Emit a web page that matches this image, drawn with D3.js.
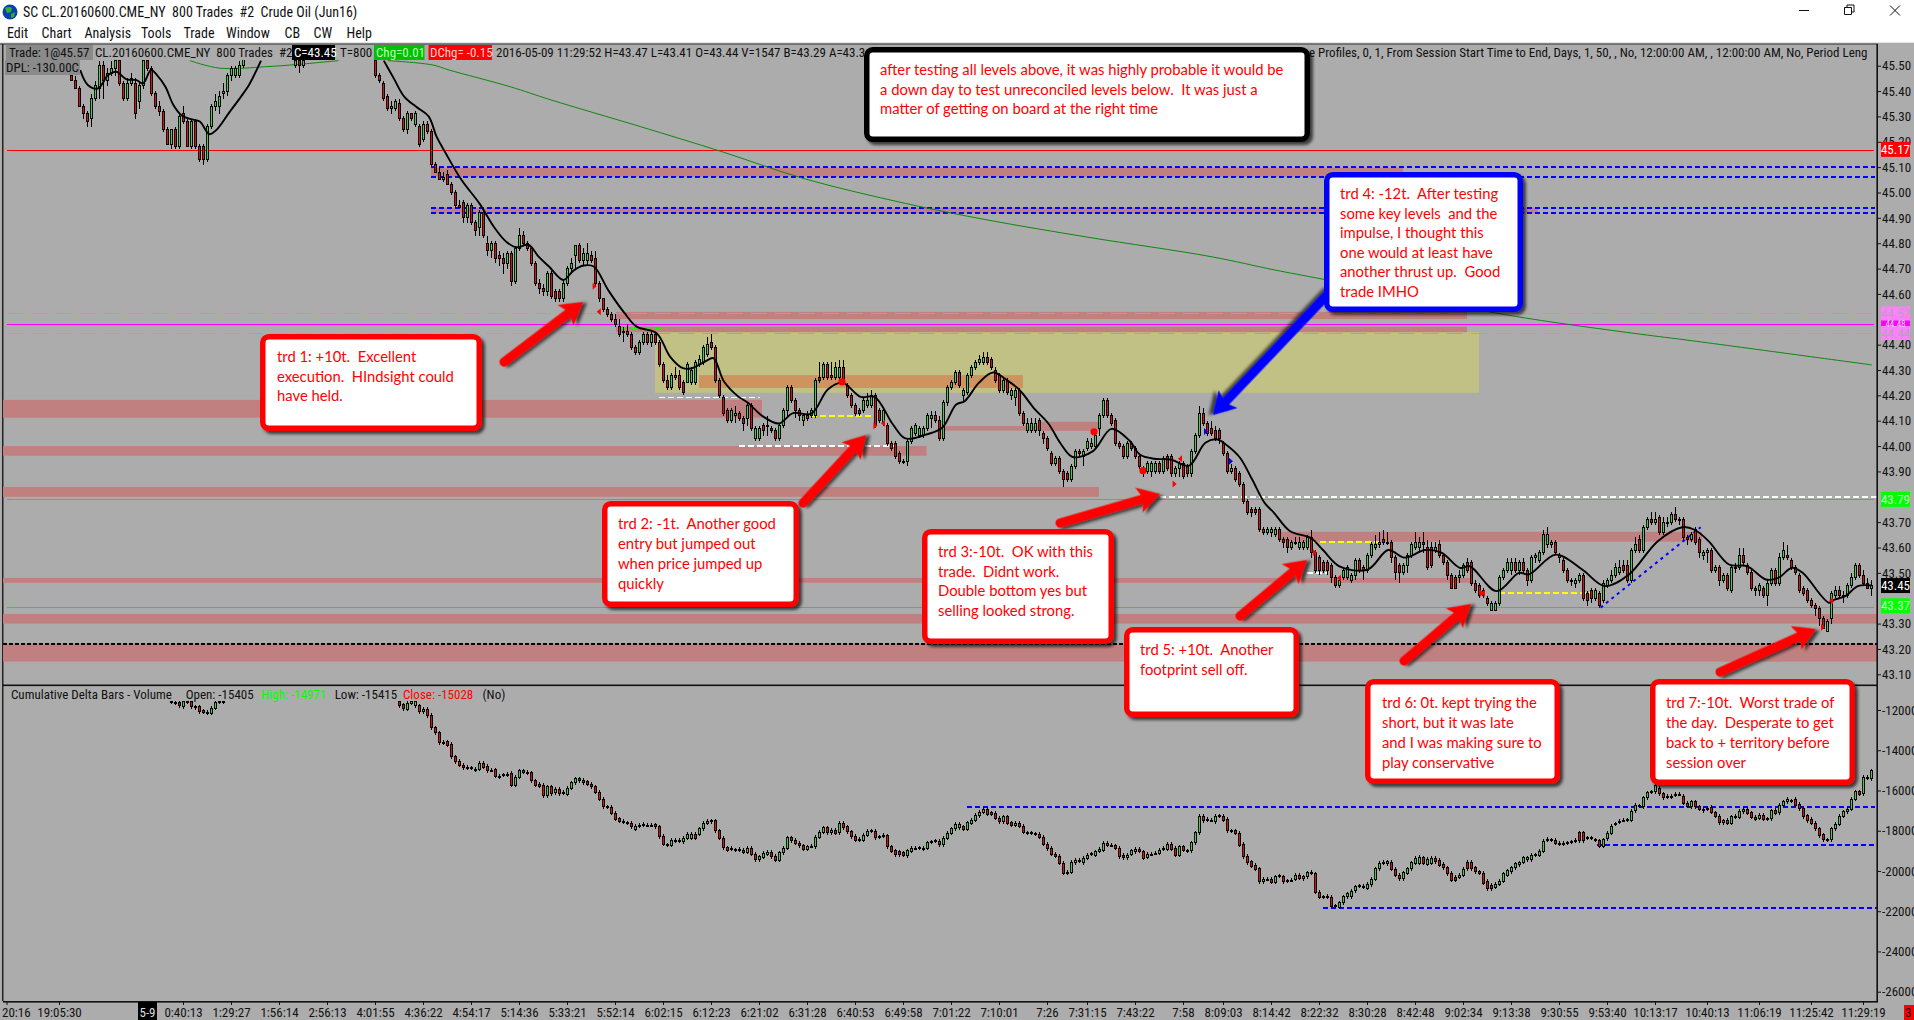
<!DOCTYPE html>
<html><head><meta charset="utf-8">
<style>
html,body{margin:0;padding:0;background:#fff;overflow:hidden}
svg{display:block}
text{white-space:pre}
</style>
<script src="https://cdn.jsdelivr.net/npm/d3@7"></script>
</head><body><svg id="c" width="1914" height="1020"></svg>
<script>
// ---- axis labels ----
const priceTicks=[45.5,45.4,45.3,45.2,45.1,45.0,44.9,44.8,44.7,44.6,44.4,44.3,44.2,44.1,44.0,43.9,43.7,43.6,43.5,43.3,43.2,43.1];
const deltaTicks=[-120,-140,-160,-180,-200,-220,-240,-260]; // hundreds of contracts
const timeBars=[0,31,43,55,67,79,91,103,115,127,139,151,163,175,187,199,211,223,235,247,257,269,281,291,303,315,327,339,351,363,375,387,399,412,425,438,451];
const timeLabels=["19:05:30","0:40:13","1:29:27","1:56:14","2:56:13","4:01:55","4:36:22","4:54:17","5:14:36","5:33:21","5:52:14","6:02:15","6:12:23","6:21:02","6:31:28","6:40:53","6:49:58","7:01:22","7:10:01","7:26","7:31:15","7:43:22","7:58","8:09:03","8:14:42","8:22:32","8:30:28","8:42:48","9:02:34","9:13:38","9:30:55","9:53:40","10:13:17","10:40:13","11:06:19","11:25:42","11:29:19"];

// ---- price candles: [open, close, high, low] in cents, consecutive bars ----
const pricesFrom3=[[4546,4544,4550,4544],[4544,4541,4546,4541],[4541,4534,4542,4534],[4534,4531,4535,4529],[4531,4528,4532,4526],[4529,4537,4539,4526],[4537,4542,4544,4536],[4541,4550,4552,4537],[4550,4544,4552,4537],[4544,4547,4549,4542],[4547,4549,4552,4546],[4549,4552,4553,4546],[4552,4543,4553,4542],[4543,4537,4544,4536],[4537,4543,4545,4536],[4543,4545,4547,4542],[4543,4531,4545,4529],[4536,4542,4543,4533],[4542,4552,4554,4541],[4552,4549,4554,4548],[4549,4539,4550,4538],[4539,4534,4540,4533],[4534,4532,4536,4530],[4532,4525,4533,4524],[4525,4519,4526,4519],[4519,4525,4525,4517],[4525,4518,4526,4517],[4518,4530,4531,4517],[4531,4528,4534,4527],[4528,4518,4529,4518],[4518,4528,4529,4517],[4528,4518,4529,4517],[4518,4513,4519,4512],[4518,4513,4519,4511],[4513,4526,4527,4512],[4526,4534,4535,4525],[4534,4536,4539,4532],[4534,4538,4540,4531],[4539,4540,4543,4537],[4540,4546,4547,4538],[4546,4549,4550,4544],[4546,4549,4550,4545],[4546,4550,4552,4545],[4550,4553,4554,4549]];
const pricesFrom59=[[4550,4552,4553,4549],[4552,4550,4553,4547],[4550,4552,4553,4549]];
const pricesFrom79=[[4552,4546,4553,4545],[4546,4544,4547,4543],[4543,4537,4544,4536],[4538,4533,4539,4532],[4533,4534,4536,4531],[4533,4536,4537,4532],[4535,4529,4537,4528],[4529,4525,4530,4524],[4525,4531,4532,4523],[4531,4529,4531,4528],[4527,4531,4532,4526],[4526,4519,4527,4518],[4521,4527,4528,4520],[4527,4524,4528,4523],[4524,4511,4525,4510],[4511,4508,4512,4508],[4508,4505,4510,4505],[4505,4506,4508,4504],[4507,4503,4509,4503],[4503,4500,4504,4499],[4500,4495,4501,4494],[4495,4494,4497,4494],[4496,4490,4497,4488],[4490,4495,4496,4488],[4495,4488,4496,4487],[4488,4485,4489,4483],[4486,4492,4493,4483],[4492,4483,4493,4482],[4480,4477,4483,4475],[4477,4480,4481,4474],[4480,4474,4481,4472],[4475,4474,4477,4471],[4474,4472,4476,4468],[4472,4476,4477,4470],[4476,4465,4477,4463],[4465,4478,4479,4464],[4478,4483,4486,4477],[4483,4480,4485,4479],[4480,4478,4481,4477],[4478,4472,4479,4471],[4472,4464,4473,4463],[4464,4462,4466,4460],[4462,4461,4464,4459],[4461,4468,4469,4459],[4468,4459,4469,4458],[4461,4458,4462,4457],[4461,4458,4462,4457],[4458,4464,4465,4457],[4464,4470,4471,4463],[4470,4472,4474,4468],[4475,4479,4479,4470],[4479,4473,4480,4472],[4473,4476,4478,4471],[4473,4476,4480,4471],[4475,4473,4477,4472],[4474,4464,4477,4463]];
const pricesFrom135=[[4464,4458,4465,4457],[4458,4454,4458,4453],[4454,4452,4455,4451],[4452,4450,4453,4449],[4450,4448,4452,4447],[4447,4444,4450,4443],[4445,4445,4447,4441],[4445,4444,4448,4443],[4444,4439,4445,4438],[4439,4437,4440,4436],[4437,4441,4442,4436],[4441,4444,4445,4440],[4444,4441,4445,4440],[4441,4444,4445,4439],[4444,4441,4445,4440]];
const pricesFrom150=[[4441,4432,4442,4431],[4432,4426,4433,4425],[4426,4423,4428,4422],[4423,4428,4429,4422],[4428,4427,4431,4426],[4428,4423,4430,4422],[4425,4421,4426,4420],[4425,4432,4433,4425],[4425,4430,4431,4424],[4425,4433,4434,4424],[4432,4434,4436,4431],[4433,4439,4440,4432],[4436,4440,4443,4435],[4441,4439,4444,4438],[4439,4426,4440,4425],[4426,4420,4427,4419],[4419,4413,4420,4412],[4414,4410,4415,4409],[4410,4414,4415,4409],[4412,4413,4416,4409],[4413,4411,4414,4410],[4411,4409,4412,4406],[4411,4416,4417,4408],[4416,4407,4417,4406],[4403,4407,4408,4402],[4403,4407,4408,4402],[4408,4406,4409,4404],[4408,4408,4412,4404],[4407,4406,4408,4405],[4406,4403,4407,4402],[4403,4408,4409,4402],[4408,4414,4415,4407],[4414,4423,4424,4412],[4423,4418,4424,4417],[4418,4414,4419,4411],[4414,4412,4415,4410],[4410,4412,4413,4408],[4412,4411,4414,4410],[4412,4414,4415,4411],[4412,4426,4427,4411],[4427,4426,4433,4425],[4427,4432,4433,4426],[4432,4427,4433,4426],[4428,4427,4433,4426],[4427,4431,4433,4426],[4427,4431,4434,4426],[4431,4426,4434,4425],[4424,4420,4425,4419],[4420,4416,4421,4415],[4416,4413,4417,4412]];
const pricesFrom200=[[4414,4413,4415,4412],[4414,4418,4419,4413],[4416,4418,4421,4415],[4416,4420,4422,4415],[4420,4408,4421,4407],[4414,4410,4415,4409],[4409,4414,4415,4408],[4408,4401,4409,4400],[4401,4399,4402,4398],[4401,4396,4402,4395],[4397,4394,4398,4393],[4394,4394,4395,4393],[4394,4402,4403,4392],[4402,4407,4408,4401],[4405,4408,4409,4404],[4404,4407,4408,4403],[4404,4407,4408,4403],[4407,4412,4413,4406],[4411,4412,4414,4407],[4412,4410,4414,4409],[4410,4403,4412,4402],[4403,4417,4418,4402],[4417,4423,4424,4416],[4423,4425,4426,4422],[4425,4429,4430,4424],[4429,4424,4430,4423],[4420,4422,4423,4417],[4421,4428,4429,4420],[4428,4431,4432,4427],[4431,4433,4434,4430],[4433,4434,4436,4432],[4433,4435,4437,4432],[4435,4433,4437,4432],[4434,4431,4435,4430],[4430,4426,4431,4425],[4428,4422,4429,4421],[4422,4426,4427,4421],[4426,4421,4427,4420],[4420,4422,4423,4418],[4419,4422,4423,4416],[4422,4413,4423,4412],[4413,4409,4414,4408],[4406,4409,4411,4405],[4406,4409,4411,4405],[4406,4409,4411,4405],[4410,4406,4411,4404],[4405,4403,4406,4401],[4403,4399,4404,4398],[4397,4393,4398,4392],[4393,4395,4396,4392]];
const pricesFrom250=[[4395,4390,4396,4389],[4390,4387,4391,4384],[4389,4387,4390,4386],[4387,4392,4393,4386],[4392,4398,4399,4391],[4398,4397,4399,4396],[4396,4398,4399,4392],[4399,4402,4403,4398],[4400,4401,4403,4399],[4400,4404,4405,4399],[4407,4412,4413,4404],[4412,4418,4419,4411],[4418,4412,4419,4411],[4412,4409,4413,4408],[4410,4401,4411,4400],[4401,4400,4402,4399],[4400,4396,4401,4395],[4396,4401,4402,4395],[4401,4399,4402,4398],[4399,4396,4400,4395],[4396,4392,4397,4391],[4391,4390,4392,4388],[4390,4393,4394,4389],[4390,4393,4394,4388],[4390,4393,4394,4389],[4393,4390,4394,4389],[4390,4395,4396,4389],[4396,4391,4397,4390],[4396,4389,4397,4388],[4389,4391,4392,4388],[4391,4393,4394,4388],[4393,4388,4394,4387],[4392,4389,4393,4388],[4389,4398,4399,4388],[4398,4404,4405,4397],[4404,4413,4416,4403],[4413,4409,4415,4408],[4409,4405,4410,4404],[4407,4405,4410,4404],[4406,4403,4408,4402],[4406,4403,4407,4401],[4401,4397,4402,4396],[4397,4390,4398,4389],[4390,4391,4393,4389],[4391,4387,4392,4386],[4389,4385,4390,4384],[4385,4378,4386,4377],[4378,4374,4379,4373],[4375,4374,4376,4372],[4375,4374,4376,4373]];
const pricesFrom300=[[4375,4367,4376,4366],[4367,4366,4368,4365],[4366,4367,4368,4365],[4366,4367,4368,4364],[4365,4367,4368,4364],[4367,4363,4368,4362],[4363,4362,4364,4360],[4363,4360,4364,4358],[4360,4362,4363,4359],[4362,4362,4364,4361],[4360,4362,4364,4359],[4360,4362,4363,4359],[4360,4364,4365,4359],[4364,4358,4367,4356],[4358,4351,4359,4350],[4356,4351,4357,4349],[4354,4351,4355,4350],[4354,4351,4355,4349],[4353,4348,4354,4346],[4348,4345,4349,4344],[4345,4347,4348,4344],[4348,4351,4352,4347],[4348,4352,4353,4347],[4347,4349,4350,4346],[4349,4355,4356,4347],[4355,4351,4356,4350],[4352,4351,4353,4347],[4351,4357,4358,4350],[4357,4361,4362,4356],[4360,4361,4365,4359],[4361,4362,4366,4360],[4363,4362,4367,4361],[4362,4362,4366,4361],[4362,4356,4363,4354],[4356,4350,4357,4347],[4353,4350,4354,4346],[4350,4353,4354,4349],[4353,4357,4358,4350],[4357,4361,4362,4356],[4360,4362,4366,4359],[4360,4362,4364,4358],[4362,4361,4366,4358],[4360,4352,4363,4351],[4360,4353,4362,4352],[4359,4360,4362,4358],[4361,4357,4363,4356],[4357,4354,4358,4353],[4354,4349,4355,4347],[4349,4344,4350,4344],[4348,4344,4349,4344]];
const pricesFrom350=[[4348,4349,4351,4346],[4349,4353,4354,4348],[4354,4351,4356,4350],[4354,4346,4355,4345],[4346,4343,4347,4342],[4345,4341,4346,4340],[4343,4341,4344,4340],[4340,4338,4341,4337],[4335,4338,4339,4335],[4335,4338,4339,4335],[4338,4348,4349,4337],[4348,4351,4352,4347],[4351,4354,4356,4350],[4351,4354,4356,4349],[4354,4351,4356,4350],[4351,4354,4355,4349],[4354,4351,4356,4350],[4351,4347,4352,4345],[4347,4356,4357,4346],[4356,4357,4358,4354],[4355,4358,4359,4354],[4358,4365,4367,4357],[4361,4365,4368,4360],[4361,4362,4363,4360],[4362,4358,4363,4357],[4357,4356,4358,4354],[4355,4351,4356,4350],[4351,4347,4352,4346],[4347,4347,4348,4345],[4346,4347,4348,4344],[4347,4349,4350,4346],[4349,4340,4350,4339],[4342,4339,4343,4337],[4343,4340,4344,4338],[4340,4343,4344,4339],[4342,4337,4343,4336],[4339,4346,4347,4338],[4345,4347,4348,4344],[4347,4349,4351,4346],[4349,4352,4354,4348],[4350,4352,4355,4349],[4353,4351,4355,4350],[4353,4347,4355,4346],[4347,4359,4360,4346],[4359,4361,4364,4358],[4363,4359,4365,4358],[4359,4368,4369,4358],[4368,4371,4372,4367],[4371,4370,4374,4369],[4370,4371,4374,4369]];
const pricesFrom400=[[4372,4366,4373,4365],[4366,4370,4372,4365],[4370,4370,4372,4368],[4370,4373,4374,4369],[4373,4371,4376,4370],[4371,4371,4372,4369],[4371,4364,4372,4363],[4364,4363,4365,4361],[4363,4365,4366,4362],[4367,4362,4368,4361],[4363,4358,4364,4356],[4357,4358,4359,4355],[4358,4359,4360,4354],[4359,4351,4360,4350],[4351,4352,4353,4350],[4352,4347,4353,4345],[4347,4349,4350,4346],[4349,4344,4350,4343],[4343,4352,4353,4342],[4352,4352,4354,4350],[4352,4357,4360,4351],[4357,4354,4360,4353],[4353,4350,4354,4349],[4350,4344,4351,4343],[4344,4343,4345,4341],[4343,4345,4346,4341],[4344,4341,4345,4340],[4341,4346,4347,4337],[4346,4351,4352,4345],[4351,4346,4352,4345],[4346,4356,4358,4345],[4356,4359,4362,4355],[4357,4356,4361,4355],[4355,4352,4356,4351],[4352,4350,4353,4349],[4349,4343,4350,4342],[4344,4342,4345,4341],[4343,4339,4344,4338],[4339,4337,4340,4336],[4337,4336,4338,4333],[4336,4332,4337,4329],[4332,4328,4333,4328],[4327,4331,4332,4327],[4332,4342,4343,4330],[4341,4343,4345,4340],[4343,4341,4345,4340],[4341,4341,4343,4338],[4341,4345,4346,4340],[4345,4348,4350,4344],[4348,4353,4354,4347],[4353,4349,4354,4348],[4349,4346,4351,4345],[4346,4344,4348,4344],[4344,4345,4347,4341]];
const priceChunks=[[3,pricesFrom3],[59,pricesFrom59],[79,pricesFrom79],[135,pricesFrom135],[150,pricesFrom150],[200,pricesFrom200],[250,pricesFrom250],[300,pricesFrom300],[350,pricesFrom350],[400,pricesFrom400]];

// ---- cumulative delta bars: [open, close] in hundreds of contracts ----
const deltaFrom28=[[-116,-116.2],[-116.4,-116.7],[-116.4,-118],[-118.3,-116],[-115.8,-115.8],[-116,-118.5],[-118.4,-119],[-118.5,-120.8],[-120.4,-121.2],[-121,-121.7],[-121.7,-119.2],[-119.2,-116.4],[-116,-115.9],[-115.8,-115.7]];
const deltaFrom85=[[-115.9,-118],[-117.5,-119.5],[-119.7,-116.7],[-116.7,-115.9],[-118,-115.9],[-118,-120.8],[-120.8,-119.7],[-119.7,-122.9],[-122.5,-128.8],[-128.7,-131.3],[-131.3,-136.3],[-136,-136.2],[-135.8,-137.5],[-137.1,-143.2],[-143.2,-145.7],[-145.4,-147.4],[-147.4,-148.7],[-148.5,-148.8],[-148.6,-148.9],[-149.4,-149.6],[-149.5,-146.5],[-146.5,-148.5],[-147.9,-150.2],[-149.9,-150],[-149.6,-152.9],[-152.9,-153.1],[-152.1,-152.3],[-152,-152.2],[-151.5,-157.3],[-157.3,-153.5],[-153.5,-150.2],[-150.2,-150.9],[-150.9,-151.5],[-151.2,-155.2],[-155.2,-157.3],[-157,-157.8],[-157.5,-162.5],[-162.5,-158.2],[-158.2,-161.5],[-161.2,-159.5],[-159.5,-161.5],[-161,-161.2],[-161.8,-159],[-159,-156.2],[-156.2,-154.2],[-154.2,-155.2],[-154.9,-156.2],[-155.7,-156.8],[-156.8,-158.2],[-158.2,-161],[-161,-164.4],[-164.4,-168.1],[-168,-168.3],[-168.4,-171.4],[-171.4,-174.4],[-174.1,-175.4],[-175.2,-175.5],[-176,-176.2],[-176.4,-178],[-179.3,-177.7]];
const deltaFrom145=[[-177.5,-177.3],[-177,-176.7],[-177.2,-177.4],[-177.2,-177.4],[-177.1,-178],[-178,-183],[-182.7,-186.8],[-186.9,-187.2],[-187.2,-184.7],[-184.7,-184.9],[-184.8,-184.9],[-185.5,-183.8],[-183.8,-181.8],[-183.8,-181.8],[-181.8,-183.8],[-181.8,-178.9],[-178.9,-176.4],[-176.4,-175.2],[-175,-175.5],[-175,-180],[-180,-183.8],[-183.8,-188.5],[-188.5,-189.6],[-188.8,-189.1],[-189.5,-189.7],[-189.2,-189.4],[-189.6,-190.8],[-190.8,-188.8],[-188.8,-191.8],[-191.6,-194.3],[-194.3,-193],[-193.3,-191.3],[-191.6,-190.8],[-190.8,-193],[-192.6,-194.6],[-194.6,-191],[-191,-188.8],[-188.8,-183.5],[-183.5,-185],[-184.7,-186.3],[-186.3,-187.5],[-187.5,-189.3],[-189.1,-188],[-187.8,-187.7],[-188,-183.3],[-183.3,-180.8],[-180.8,-178.4],[-178.4,-181],[-181,-179.7],[-179.7,-181.3],[-181,-176.4],[-176.4,-178.4],[-178,-180.5],[-180.5,-183],[-182.7,-184.7]];
const deltaFrom200=[[-184.3,-184.5],[-184.7,-182.3],[-182.3,-180.3],[-180.2,-180],[-180.2,-183.6],[-183,-183.2],[-182.5,-182.3],[-182.5,-188],[-188,-190.1],[-189.9,-191.9],[-190.5,-191.9],[-191,-192.1],[-192.4,-189.9],[-190.1,-188.8],[-188.8,-188.6],[-188.4,-188.6],[-188.8,-189],[-188.8,-186],[-185.6,-185.4],[-185.2,-185.1],[-185.2,-187],[-187,-183.8],[-183.8,-181.3],[-181.3,-179.1],[-179.1,-176.8],[-178.4,-176.8],[-178,-179.3],[-179.3,-176],[-176.4,-174.7],[-174.7,-172.2],[-172.5,-170.9],[-170.9,-169.4],[-169.4,-171.9],[-171.1,-171.9],[-171.4,-173.9],[-173.9,-175.5],[-175.5,-173],[-173,-176.4],[-176,-177.4],[-177.4,-176.2],[-176.2,-177.7],[-177.7,-180.8],[-181,-181.2],[-181,-180.9],[-181.6,-181.7],[-181.7,-183.3],[-183.3,-186.8],[-186.6,-189],[-188.8,-191.6],[-191.6,-192.6]];
const deltaFrom250=[[-192.6,-196.2],[-196.2,-201.2],[-200.7,-200.9],[-200.7,-195.7],[-195.9,-194.6],[-194.7,-194.9],[-195.9,-193.8],[-193.8,-192.1],[-191.7,-191.5],[-192.1,-190.5],[-190.3,-189.1],[-189.6,-186.3],[-186.3,-187.1],[-187.1,-187.3],[-187.5,-188.8],[-188.8,-193],[-192.1,-193.4],[-193.4,-192.1],[-191.6,-190],[-190.5,-189.1],[-189.1,-190.1],[-190.5,-193.8],[-193.3,-191.6],[-191.6,-191.8],[-191.3,-191.1],[-191.3,-189.6],[-189,-188.8],[-189.1,-186.6],[-186.6,-189.1],[-188.8,-192.1],[-192.1,-187.9],[-187.9,-189.6],[-189.9,-190],[-189.9,-186],[-186,-181],[-181,-172.7],[-172.7,-175],[-174.4,-174.6],[-174.7,-174.9],[-175.5,-172.7],[-172.7,-172.5],[-172.7,-174.7],[-174.4,-180],[-180,-180.2],[-180,-181.3],[-181.3,-187.1],[-186.6,-193],[-192.6,-195.9],[-195.4,-197.6],[-197.1,-199.2]];
const deltaFrom300=[[-198.8,-205.4],[-205.4,-204],[-204,-204.2],[-204,-205.7],[-205.7,-202.9],[-202.6,-202.4],[-202.9,-205.4],[-205,-204.9],[-204.6,-204.5],[-204.2,-202.1],[-202.1,-203.7],[-203.9,-202.9],[-202.9,-200.9],[-200.9,-200.7],[-201.5,-210.6],[-210.6,-213.1],[-212.8,-212.9],[-212.5,-213.1],[-213.1,-217.5],[-217.4,-217.6],[-218.1,-215.8],[-215.8,-212.8],[-212.8,-211.2],[-212.8,-210],[-209.8,-207.9],[-207.5,-207.4],[-207.9,-207.7],[-208.7,-206.5],[-206.9,-204.2],[-204.2,-198.8],[-198.8,-196.2],[-195.8,-195.7],[-196.5,-195.4],[-195.7,-199.2],[-199.2,-202.2],[-202.2,-203.9],[-203.9,-200.9],[-201.2,-198.8],[-198.8,-195.9],[-196.2,-193.8],[-196.2,-193.3],[-193.4,-196.2],[-196.7,-194.1],[-196.2,-193.8],[-193.8,-195.4],[-194.6,-197.1],[-196.7,-198.3],[-198.3,-201.5],[-201.2,-204.5],[-203.2,-204.5]];
const deltaFrom350=[[-203.2,-202.1],[-202.1,-199.2],[-195.6,-198.9],[-195.6,-198.9],[-198.4,-200.4],[-200.4,-201.2],[-201.2,-206.2],[-205,-208.9],[-207,-208.9],[-208.2,-206.5],[-206.5,-205],[-205,-201.5],[-202.1,-200],[-200.4,-198.4],[-198.3,-196.4],[-196.8,-195.9],[-195.7,-193.4],[-194.3,-193.4],[-194.3,-192.1],[-192.1,-192],[-192.1,-190.1],[-190.1,-185.3],[-184.4,-184.2],[-184.7,-184.5],[-184.7,-186.3],[-186.3,-186.5],[-186.2,-186.4],[-186.2,-186],[-185.7,-185.5],[-185,-184.8],[-180.9,-185],[-180.9,-185],[-183.8,-183.6],[-183.8,-183.6],[-184.4,-184.5],[-185,-187.7],[-187.7,-184.4],[-184,-181.3],[-181.3,-177.7],[-176.7,-176.5],[-175.5,-175.3],[-174.9,-174.7],[-174.7,-174.6],[-174.7,-170.3],[-170.1,-167.3],[-167.8,-167.7],[-168.1,-163.5],[-163.5,-161.2],[-160.7,-160.6],[-160.7,-157.7]];
const deltaFrom400=[[-159,-161.5],[-161.5,-163.5],[-162.8,-163],[-163,-162.8],[-162,-161.9],[-161.8,-161.9],[-162.8,-166.4],[-166.4,-167.8],[-168.1,-165.6],[-165.6,-168.1],[-168.1,-169.3],[-169.3,-170.1],[-169,-168.9],[-168.4,-170.8],[-171.1,-172.7],[-172.7,-176],[-176,-175],[-174.7,-176.4],[-176.4,-173],[-173,-172.8],[-173.4,-170.3],[-170.6,-169.4],[-169.4,-171.4],[-171.1,-173.4],[-173.4,-174.4],[-173.9,-172.2],[-172.2,-174.4],[-174.1,-174],[-174,-170.1],[-169.8,-171.4],[-171.1,-167.3],[-167.3,-165.6],[-165.6,-164.3],[-165.1,-165],[-164.4,-167.3],[-166.8,-169],[-168.8,-173],[-172.6,-175],[-174.4,-176.4],[-176.4,-179.1],[-178.9,-182.5],[-181.9,-184.4],[-184.4,-184.6],[-184.4,-178.9],[-178.9,-176.7],[-176.7,-172.7],[-172.7,-170.6],[-170.6,-169.4],[-169.4,-164.4],[-164.4,-160.7],[-160.7,-161.8],[-161.5,-153.5],[-153.5,-153.7],[-154.05,-150.28]];
const deltaChunks=[[28,deltaFrom28],[85,deltaFrom85],[145,deltaFrom145],[200,deltaFrom200],[250,deltaFrom250],[300,deltaFrom300],[350,deltaFrom350],[400,deltaFrom400]];

// ---- moving averages: [bar, price] ----
const blackAvgLeft=[[5.3,45.483],[7.2,45.424],[9.7,45.41],[12.3,45.463],[14.3,45.476],[16.9,45.446],[19.4,45.443],[21,45.43],[23,45.483],[24.5,45.463],[26.6,45.417],[28.6,45.345],[30.6,45.305],[33.2,45.288],[35.2,45.28],[37.6,45.23],[39.3,45.246],[42.4,45.312],[45.5,45.378],[47.5,45.424],[50.5,45.52]];
const blackAvgRight=[[81.2,45.52],[83.7,45.45],[86.3,45.378],[89.3,45.338],[92.4,45.30],[94.4,45.22],[96.5,45.16],[100.6,45.05],[105.1,44.957],[108.7,44.865],[111.8,44.806],[114.3,44.784],[117.4,44.793],[119.9,44.747],[122.5,44.708],[126.1,44.655],[128.6,44.692],[131.2,44.712],[133.7,44.708],[137.3,44.615],[141.4,44.524],[144.4,44.471],[149.4,44.445],[152.75,44.353],[156,44.307],[158.2,44.307],[161.5,44.333],[163.6,44.347],[166.2,44.256],[169.7,44.197],[172.3,44.17],[175.9,44.118],[180,44.089],[183.5,44.13],[188.1,44.128],[192.2,44.223],[195.8,44.25],[200.4,44.194],[203.9,44.194],[208.5,44.085],[211.6,44.03],[216.7,44.045],[220.8,44.072],[224.3,44.164],[226.4,44.177],[230,44.25],[233.5,44.29],[237,44.26],[240.2,44.22],[243.7,44.15],[247.3,44.09],[250.4,44.01],[253.4,43.957],[258.5,43.98],[263.1,44.068],[267.7,44.02],[270.2,43.967],[273.8,43.95],[277.9,43.947],[282.5,43.923],[286.6,44.013],[289.6,44.026],[292.2,44.0],[295.25,43.954],[298.3,43.868],[301.4,43.776],[303.75,43.737],[307.8,43.664],[312.9,43.638],[316,43.59],[320.1,43.526],[327.2,43.513],[332.3,43.59],[336.4,43.56],[341.5,43.59],[345.6,43.58],[350.2,43.52],[352.7,43.526],[359.4,43.428],[365,43.50],[367.5,43.494],[374.2,43.572],[380.8,43.513],[386.4,43.448],[392.5,43.494],[399.7,43.625],[405.8,43.68],[408.9,43.67],[412.4,43.625],[417.5,43.533],[422.1,43.526],[426.7,43.474],[429.8,43.48],[433.3,43.52],[435.9,43.50],[442.5,43.382],[444,43.395],[446.6,43.408],[449.7,43.448],[453.2,43.45]];
const greenAvgLeft=[[32.7,45.52],[40.3,45.49],[51.6,45.496],[59.7,45.505],[69.9,45.52]];
const greenAvgRight=[[82.2,45.52],[93.4,45.503],[97.5,45.483],[112.8,45.417],[123,45.365],[145.3,45.26],[165.7,45.161],[186,45.056],[211.6,44.957],[232,44.892],[257.5,44.823],[288,44.747],[303.75,44.695],[316,44.658],[362,44.517],[393.5,44.445],[407,44.418],[453.2,44.32]];

// ---- price zones: [top price, bottom price, first bar, last bar] ----
const roseZones=[[45.098,45.062,93,336],[44.94,44.918,93,369.75],[44.529,44.501,139.25,352],[44.471,44.449,139.25,352],[44.182,44.112,-14,175.75],[44.0,43.962,-14,216.9],[43.839,43.80,-14,260],[43.48,43.461,-14,353.25],[43.338,43.30,-14,454.5],[43.22,43.15,-14,454.5],[44.079,44.061,220.75,260.5],[44.096,44.061,245.25,260.5],[43.662,43.623,305,410.75]];
const oliveZone=[44.45,44.21,149,355];
const orangeZone=[44.28,44.229,160,241];
// ---- level lines: [price, first bar, last bar, colour, dash] ----
const priceLevels=[[45.166,-13,453.8,"#ff0000",null,1],[45.10,93,454,"#0000ff","5 3",1.5],[45.061,93,454,"#0000ff","5 3",1.5],[44.939,93,454,"#0000ff","5 3",1.5],[44.919,93,454,"#0000ff","5 3",1.5],[44.521,-13,453.8,"#ff66ff","16 8",1],[44.48,-13,453.8,"#ff00ff",null,1],[44.442,-13,453.8,"#ff66ff","16 8",1],[43.79,-13,453.8,"#00ee00",null,1],[43.364,-13,453.8,"#00ee00",null,1],[43.80,275.25,454.5,"#ffffff","6 3",1.5],[43.22,-14,454.5,"#000000","4 2",1.5],[44.191,150,175.25,"#ffffff","6 3",1.5],[44.0,170,209.5,"#ffffff","6 3",1.5],[44.119,188,203,"#ffff00","6 3",1.5],[43.50,312,317,"#ffffff","6 3",1.5],[43.622,313,330,"#ffff00","6 3",1.5],[43.421,360,383,"#ffff00","6 3",1.5],[44.463,140,151,"#00ff00","6 6",1.5]];
const blueDiagonal=[[385.4,43.363],[410.4,43.68]];
const deltaLevels=[[-168.2,226.9,454],[-187.1,384.4,454.5],[-218.4,316,454.5]];
// ---- trade marks: [bar, price] ----
const fillDots=[[195.75,44.253],[258.75,44.056],[271,43.903]];
const redEntries=[[133.4,44.63],[203.6,44.08],[278.4,43.85],[313.45,43.58],[355.25,43.42],[440.5,43.286]];
const redExits=[[135.45,44.53],[206.5,44.09],[280.75,43.95],[320.5,43.48],[356.5,43.42],[443.5,43.39]];
const blueMarks=[[286.25,44.057],[292.5,43.94]];
// ---- price flags on the scale: [value text, price, fill, text fill] ----
const flagTexts=["45.17","43.79","43.37","43.45"];
const flagPrices=[45.17,43.79,43.37,43.45];
const flagFills=["#ff0000","#00ff00","#00ff00","#000000"];
const flagInk=["#ffffff","#ccffcc","#ccffcc","#ffffff"];

// ---- annotations ----
const notes=[
 {b:[864,47,446,95],c:"#000",x:880,lines:["after testing all levels above, it was highly probable it would be","a down day to test unreconciled levels below.  It was just a","matter of getting on board at the right time"],y:[69,89,108]},
 {b:[1324,172,199,140],c:"#0000ff",x:1340,lines:["trd 4: -12t.  After testing","some key levels  and the","impulse, I thought this","one would at least have","another thrust up.  Good","trade IMHO"],y:[193,213,232,252,271,291]},
 {b:[260,334,222,97],c:"#ff0000",x:277,lines:["trd 1: +10t.  Excellent","execution.  HIndsight could","have held."],y:[356,376,395]},
 {b:[602,501,197,106],c:"#ff0000",x:618,lines:["trd 2: -1t.  Another good","entry but jumped out","when price jumped up","quickly"],y:[523,543,563,583]},
 {b:[922,529,192,115],c:"#ff0000",x:938,lines:["trd 3:-10t.  OK with this","trade.  Didnt work.","Double bottom yes but","selling looked strong."],y:[551,571,590,610]},
 {b:[1124,627,175,90],c:"#ff0000",x:1140,lines:["trd 5: +10t.  Another","footprint sell off."],y:[649,669]},
 {b:[1365,679,195,105],c:"#ff0000",x:1382,lines:["trd 6: 0t. kept trying the","short, but it was late","and I was making sure to","play conservative"],y:[702,722,742,762]},
 {b:[1650,679,205,106],c:"#ff0000",x:1666,lines:["trd 7:-10t.  Worst trade of","the day.  Desperate to get","back to + territory before","session over"],y:[702,722,742,762]}
];
const arrows=[
 {f:[504,362],t:[583,302],c:"#ff0000"},{f:[803,503],t:[866,435],c:"#ff0000"},{f:[1060,523],t:[1160,494],c:"#ff0000"},
 {f:[1240,616],t:[1307,560],c:"#ff0000"},{f:[1404,661],t:[1471,604],c:"#ff0000"},{f:[1720,672],t:[1816,629],c:"#ff0000"},
 {f:[1330,292],t:[1213,415],c:"#0000ff"}
];

const BG="#acacac", ROSE="#c18080", NARROW='"Liberation Sans Narrow","Roboto Condensed","Liberation Sans",sans-serif';
const svg=d3.select("#c");
const x=d3.scaleLinear().domain([0,453]).range([59,1871]);
const yP=d3.scaleLinear().domain([45.5,43.1]).range([65.7,674.3]);
const yD=d3.scaleLinear().domain([-120,-260]).range([710,991.7]);

const defs=svg.append("defs");
defs.append("clipPath").attr("id","clipP").append("rect").attr("x",3).attr("y",60).attr("width",1874).attr("height",624);
defs.append("clipPath").attr("id","clipD").append("rect").attr("x",3).attr("y",701).attr("width",1874).attr("height",300);
const sh=defs.append("filter").attr("id","shadow").attr("x","-20%").attr("y","-20%").attr("width","150%").attr("height","150%");
sh.append("feDropShadow").attr("dx",3).attr("dy",3).attr("stdDeviation",1.6).attr("flood-color","#000").attr("flood-opacity",0.65);

function label(g,px,py,t,o={}){
 return g.append("text").attr("x",px).attr("y",py).attr("dominant-baseline","central")
  .attr("text-anchor",o.anchor||"start").attr("fill",o.fill||"#111")
  .attr("font-family",o.family||NARROW).attr("font-size",o.size||13).text(t);
}

// page background
svg.append("rect").attr("width",1914).attr("height",1020).attr("fill","#fff");
svg.append("rect").attr("y",42).attr("width",1914).attr("height",1).attr("fill","#e4e4e4");
svg.append("rect").attr("y",43).attr("width",1914).attr("height",977).attr("fill",BG);
svg.append("rect").attr("y",43.5).attr("width",1878).attr("height",1.2).attr("fill","#555");
svg.append("rect").attr("x",2).attr("y",44).attr("width",1.5).attr("height",957).attr("fill","#222");

// title + menu
const titleG=svg.append("g");
titleG.append("circle").attr("cx",10).attr("cy",12).attr("r",7.5).attr("fill","#0a3fb0");
titleG.append("path").attr("d","M5 8 Q9 6 12 8 L11 12 L7 13 Z M11 14 L15 12 L14 17 L11 18 Z").attr("fill","#2fb030");
label(titleG,23,12,"SC CL.20160600.CME_NY  800 Trades  #2  Crude Oil (Jun16)",{size:14});
const menuNames=["Edit","Chart","Analysis","Tools","Trade","Window","CB","CW","Help"];
const menuX=[7,41.5,84.5,141,183.5,226,284.5,313.5,346.5];
menuNames.forEach((m,k)=>label(titleG,menuX[k],33,m,{size:14}));
titleG.append("path").attr("d","M1799 10.5H1809").attr("stroke","#111").attr("fill","none");
titleG.append("path").attr("d","M1844.5 7.5h7v7h-7z M1847 7.5v-2.5h7v7h-2.5").attr("stroke","#111").attr("fill","none");
titleG.append("path").attr("d","M1890 5.5L1900 15.5M1900 5.5L1890 15.5").attr("stroke","#111").attr("fill","none");

// price pane
const pane=svg.append("g").attr("clip-path","url(#clipP)");
const zoneRect=(g,z,fill)=>g.append("rect").attr("x",x(z[2])).attr("width",x(z[3])-x(z[2])).attr("y",yP(z[0])).attr("height",yP(z[1])-yP(z[0])).attr("fill",fill);
zoneRect(pane,oliveZone,"#c1c186");
zoneRect(pane,orangeZone,"#cf9360");
roseZones.forEach(z=>zoneRect(pane,z,ROSE));
priceLevels.forEach(l=>{
 const s=pane.append("line").attr("x1",x(l[1])).attr("x2",x(l[2])).attr("y1",yP(l[0])).attr("y2",yP(l[0])).attr("stroke",l[3]).attr("stroke-width",l[5]).attr("shape-rendering","crispEdges");
 if(l[4]) s.attr("stroke-dasharray",l[4]);
});
pane.append("line").attr("x1",x(blueDiagonal[0][0])).attr("y1",yP(blueDiagonal[0][1])).attr("x2",x(blueDiagonal[1][0])).attr("y2",yP(blueDiagonal[1][1])).attr("stroke","#0000ff").attr("stroke-width",2).attr("stroke-dasharray","3 4");
const avgLine=d3.line().x(d=>x(d[0])).y(d=>yP(d[1])).curve(d3.curveCatmullRom);
[greenAvgLeft,greenAvgRight].forEach(a=>pane.append("path").attr("d",avgLine(a)).attr("fill","none").attr("stroke","#008000").attr("stroke-width",0.9));

const priceBars=priceChunks.flatMap(([s,rows])=>rows.map((r,k)=>({i:s+k,o:r[0]/100,c:r[1]/100,h:r[2]/100,l:r[3]/100})));
const candles=pane.append("g").attr("shape-rendering","crispEdges");
candles.selectAll("line").data(priceBars).join("line").attr("x1",d=>Math.round(x(d.i))+.5).attr("x2",d=>Math.round(x(d.i))+.5).attr("y1",d=>yP(d.h)).attr("y2",d=>yP(d.l)).attr("stroke","#000");
candles.selectAll("rect").data(priceBars).join("rect").attr("x",d=>Math.round(x(d.i))-.5).attr("width",2)
 .attr("y",d=>Math.min(yP(d.o),yP(d.c))).attr("height",d=>Math.max(1,Math.abs(yP(d.o)-yP(d.c))))
 .attr("fill",d=>d.c>=d.o?"#00ff00":"#ff0000").attr("stroke","#000").attr("stroke-width",1);

[blackAvgLeft,blackAvgRight].forEach(a=>pane.append("path").attr("d",avgLine(a)).attr("fill","none").attr("stroke","#000").attr("stroke-width",1.9));
pane.selectAll("circle.f").data(fillDots).join("circle").attr("cx",d=>x(d[0])).attr("cy",d=>yP(d[1])).attr("r",3.6).attr("fill","#ff0000");
const tri=(g,data,dir,fill)=>g.selectAll(null).data(data).join("path").attr("d",d=>{const a=x(d[0]),b=yP(d[1]);return `M${a} ${b-3.5}L${a+dir*4} ${b}L${a} ${b+3.5}Z`;}).attr("fill",fill);
tri(pane,redEntries,1,"#ff0000");tri(pane,redExits,-1,"#ff0000");tri(pane,blueMarks,1,"#0000ff");

// delta pane
const paneD=svg.append("g").attr("clip-path","url(#clipD)");
deltaLevels.forEach(l=>paneD.append("line").attr("x1",x(l[1])).attr("x2",x(l[2])).attr("y1",yD(l[0])).attr("y2",yD(l[0])).attr("stroke","#0000ff").attr("stroke-width",1.5).attr("stroke-dasharray","5 3").attr("shape-rendering","crispEdges"));
const deltaBars=deltaChunks.flatMap(([s,rows])=>rows.map((r,k)=>({i:s+k,o:r[0],c:r[1]})));
const dc=paneD.append("g").attr("shape-rendering","crispEdges");
dc.selectAll("line").data(deltaBars).join("line").attr("x1",d=>Math.round(x(d.i))+.5).attr("x2",d=>Math.round(x(d.i))+.5)
 .attr("y1",d=>Math.min(yD(d.o),yD(d.c))-2).attr("y2",d=>Math.max(yD(d.o),yD(d.c))+2).attr("stroke","#000");
dc.selectAll("rect").data(deltaBars).join("rect").attr("x",d=>Math.round(x(d.i))-.5).attr("width",2)
 .attr("y",d=>Math.min(yD(d.o),yD(d.c))).attr("height",d=>Math.max(1,Math.abs(yD(d.o)-yD(d.c))))
 .attr("fill",d=>d.c>=d.o?"#00ff00":"#ff0000").attr("stroke","#000").attr("stroke-width",1);

// frame
svg.append("rect").attr("x",3).attr("y",684.5).attr("width",1875).attr("height",1.6).attr("fill","#111");
svg.append("rect").attr("x",3).attr("y",1001).attr("width",1875).attr("height",1.6).attr("fill","#111");
svg.append("rect").attr("x",1876.4).attr("y",44).attr("width",1.6).attr("height",958).attr("fill","#111");

// axes
const axP=svg.append("g").attr("transform","translate(1878,0)").call(d3.axisRight(yP).tickValues(priceTicks).tickSize(3).tickPadding(1).tickFormat(d3.format(".2f")));
const axD=svg.append("g").attr("transform","translate(1878,0)").call(d3.axisRight(yD).tickValues(deltaTicks).tickSize(3).tickPadding(1).tickFormat(d=>"-"+(-d*100)));
const axT=svg.append("g").attr("transform","translate(0,1002)").call(d3.axisBottom(x).tickValues(timeBars).tickSize(3).tickPadding(3).tickFormat((d,k)=>timeLabels[k]));
[axP,axD,axT].forEach(a=>{a.select(".domain").remove();a.selectAll("line").attr("stroke","#111");a.selectAll("text").attr("font-family",NARROW).attr("font-size",13).attr("fill","#111");});
axT.append("line").attr("x1",7).attr("x2",7).attr("y1",0).attr("y2",3).attr("stroke","#111");
label(svg,2,1012,"20:16");
svg.append("rect").attr("x",138).attr("y",1002).attr("width",19).attr("height",18).attr("fill","#000");
label(svg,147.5,1012,"5-9",{fill:"#ddd",anchor:"middle"});
svg.append("rect").attr("x",1904).attr("y",1005).attr("width",10).attr("height",15).attr("fill","#ff0000");
label(svg,1905,1012,"3",{fill:"#111"});

// price flags
flagTexts.forEach((t,k)=>{
 const py=yP(flagPrices[k]);
 svg.append("rect").attr("x",1881).attr("y",py-7.5).attr("width",29).attr("height",15).attr("fill",flagFills[k]);
 label(svg,1895.5,py,t,{fill:flagInk[k],anchor:"middle"});
});
svg.append("rect").attr("x",1881).attr("y",306.5).attr("width",29).attr("height",33.5).attr("fill","#ff80ff");
svg.append("rect").attr("x",1881).attr("y",320.5).attr("width",29).attr("height",5.5).attr("fill","#ff00ff");
label(svg,1895.5,313.5,"44.52",{fill:"#aaa",anchor:"middle"});
label(svg,1895.5,323.5,"44.48",{fill:"#ddd",anchor:"middle",size:9});
label(svg,1895.5,333,"44.44",{fill:"#aaa",anchor:"middle"});

// header strip
const hd=svg.append("g");
const hdrBoxes=[[6,45,87,15,"#8a8a8a"],[292,45,43,15,"#000"],[374,45,50.5,15,"#00c000"],[428.5,45,63.5,15,"#ff0000"],[5,60,75,15,"#8a8a8a"]];
hdrBoxes.forEach(b=>hd.append("rect").attr("x",b[0]).attr("y",b[1]).attr("width",b[2]).attr("height",b[3]).attr("fill",b[4]));
const hdrTexts=[[9,"Trade: 1@45.57","#111"],[95,"CL.20160600.CME_NY  800 Trades  #2","#111"],[294,"C=43.45","#fff"],[340,"T=800","#111"],[376,"Chg=0.01","#b8ffb8"],[430,"DChg= -0.15","#ffd0d0"],[496,"2016-05-09 11:29:52 H=43.47 L=43.41 O=43.44 V=1547 B=43.29 A=43.3","#111"],[1309,"e Profiles, 0, 1, From Session Start Time to End, Days, 1, 50, , No, 12:00:00 AM, , 12:00:00 AM, No, Period Leng","#111"]];
hdrTexts.forEach(t=>label(hd,t[0],52.5,t[1],{fill:t[2]}));
label(hd,6,67.5,"DPL: -130.00C");
const legendX=[11,185.7,261,334.7,403,482.5];
const legendT=["Cumulative Delta Bars - Volume","Open: -15405","High: -14971","Low: -15415","Close: -15028","(No)"];
const legendC=["#111","#111","#00ff00","#111","#ff0000","#111"];
legendT.forEach((t,k)=>label(svg,legendX[k],694,t,{fill:legendC[k]}));

// arrows
const arrowsG=svg.append("g");
arrows.forEach(a=>{
 const [x1,y1]=a.f,[x2,y2]=a.t,ang=Math.atan2(y2-y1,x2-x1),L=Math.hypot(x2-x1,y2-y1);
 const g=arrowsG.append("g").attr("transform",`translate(${x1},${y1}) rotate(${ang*180/Math.PI})`).attr("filter","url(#shadow)");
 g.append("line").attr("x1",0).attr("x2",L-14).attr("y1",0).attr("y2",0).attr("stroke",a.c).attr("stroke-width",9).attr("stroke-linecap","round");
 g.append("path").attr("d",`M${L-22} -13L${L} 0L${L-22} 13L${L-17} 0Z`).attr("fill",a.c);
});

// callouts
notes.forEach(n=>{
 const [bx,by,bw,bh]=n.b;
 const g=svg.append("g");
 g.append("rect").attr("x",bx+2.75).attr("y",by+2.75).attr("width",bw-5.5).attr("height",bh-5.5).attr("rx",6).attr("fill","#fff").attr("stroke",n.c).attr("stroke-width",5.5).attr("filter","url(#shadow)");
 n.lines.forEach((t,k)=>g.append("text").attr("x",n.x).attr("y",n.y[k]).attr("dominant-baseline","central").attr("fill","#ff0000").attr("font-family",'Lato,"Noto Sans",sans-serif').attr("font-size",14.8).text(t));
});
</script></body></html>
